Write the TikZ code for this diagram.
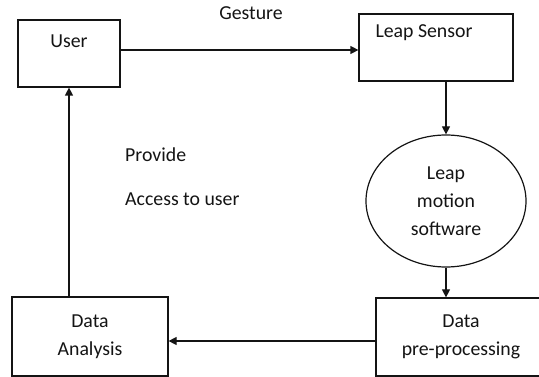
\documentclass[tikz,border=0pt]{standalone}
\usepackage{fontspec}
\setmainfont{Carlito}
\usepackage{tikz}
\usetikzlibrary{positioning, shapes.geometric, arrows.meta}
\definecolor{lmBlack}{RGB}{20, 20, 20}
\tikzset{
    base/.style={
        font=\fontsize{19.8}{28}\selectfont,
        align=center,
        text=lmBlack
    },
    block/.style={
        base,
        rectangle,
        draw=lmBlack,
        line width=1.2pt,
        fill=white,
        inner sep=0pt
    },
    blob/.style={
        base,
        ellipse,
        draw=lmBlack,
        line width=1.2pt,
        fill=white,
        inner sep=0pt
    },
    flow/.style={
        -{Triangle[length=8pt, width=8pt]},
        line width=1.2pt,
        color=lmBlack
    },
    note/.style={
        base,
        inner sep=0pt
    }
}
\begin{document}
\begin{tikzpicture}[x=1pt, y=-1pt]
  \useasboundingbox (0,0) rectangle (539,377);

  % Blocks
  \node[block, minimum width=102pt, minimum height=67pt,
        label={[note, yshift=12.5pt]center:User}] (user) at (69,53.5) {};
  \node[block, minimum width=154pt, minimum height=67pt,
        label={[note, xshift=-12pt, yshift=14.5pt]center:Leap Sensor}] (sensor) at (436,47.5) {};
  \node[blob, minimum width=160pt, minimum height=132pt] (software) at (446,201) {Leap\\motion\\software};
  \node[block, minimum width=170pt, minimum height=78pt] (prep) at (461,337) {Data\\pre-processing};
  \node[block, minimum width=156pt, minimum height=79pt] (analysis) at (90,336.5) {Data\\Analysis};

  % Texts
  \node[note] (gesture) at (251,13) {Gesture};
  \node[note, anchor=west] (provide) at (125,155) {Provide};
  \node[note, anchor=west] (access) at (125,199) {Access to user};

  % Connectors
  \coordinate (gout) at ([yshift=3.5pt]user.east);
  \coordinate (pout) at ([yshift=-4pt]prep.west);
  \draw[flow] (gout) -- (gout -| sensor.west);
  \draw[flow] (software.north |- sensor.south) -- (software.north);
  \draw[flow] (software.south) -- (software.south |- prep.north);
  \draw[flow] (pout) -- (pout -| analysis.east);
  \draw[flow] (user.south |- analysis.north) -- (user.south);
\end{tikzpicture}
\end{document}
